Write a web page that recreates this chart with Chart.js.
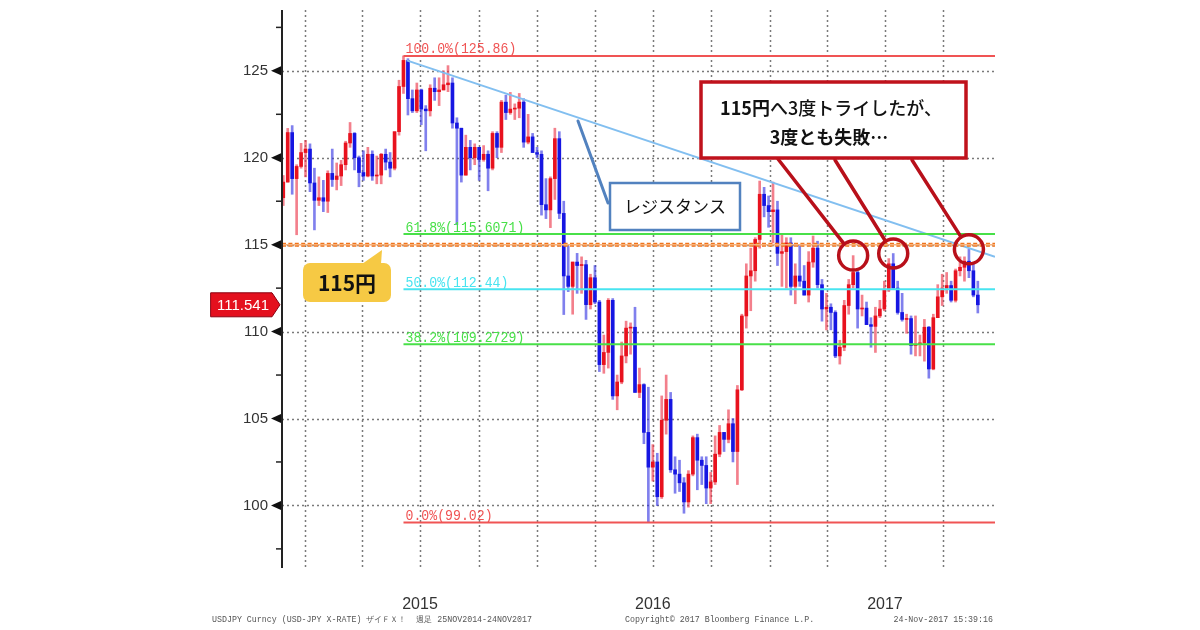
<!DOCTYPE html>
<html><head><meta charset="utf-8">
<script src="https://cdn.jsdelivr.net/npm/chart.js@4.4.1/dist/chart.umd.min.js"></script>
<style>html,body{margin:0;padding:0;background:#fff;}canvas{display:block;}</style>
</head><body>
<canvas id="c" width="1200" height="630" style="width:1200px;height:630px"></canvas>
<script>
// ---- data (USDJPY weekly, Friday dated) ----
const firstWeek = '2014-11-28';
const opens = [
117.7,118.6,121.45,118.8,119.5,120.3,120.5,118.55,117.55,117.7,117.5,119.1,118.75,118.95,119.6,120.85,121.4,120.0,119.15,118.95,
120.2,118.95,119.0,120.2,119.75,119.4,121.5,124.1,125.6,123.4,122.7,123.9,122.8,122.7,124.0,123.8,123.9,124.2,124.3,122.0,
121.7,119.0,120.6,120.0,120.6,119.9,120.2,119.4,121.4,120.6,123.2,122.6,122.8,122.85,123.2,120.9,121.2,120.3,120.2,117.3,
117.0,118.8,121.1,116.8,113.2,112.6,114.0,113.8,113.85,111.55,113.1,111.7,108.1,108.8,111.8,106.3,107.1,108.6,110.2,110.25,
106.5,106.95,104.2,102.2,102.5,100.5,104.9,106.1,102.05,101.8,101.3,100.2,101.8,103.9,102.6,102.3,101.0,101.35,102.95,104.2,
103.8,104.7,103.1,106.65,110.9,113.2,113.5,115.3,117.9,117.25,116.9,117.0,114.5,114.6,115.1,112.6,113.2,112.9,112.1,114.0,
114.8,112.7,111.3,111.4,111.1,108.6,109.1,111.5,112.7,113.4,111.3,111.35,110.4,110.3,110.9,111.3,112.4,113.9,112.5,111.1,
110.7,110.75,109.2,109.25,109.35,110.25,107.85,110.8,112.0,112.5,112.65,111.8,113.5,113.7,114.05,113.5,112.1];
const highs = [
118.98,121.69,121.85,119.6,120.83,121.0,120.8,119.4,118.9,118.7,119.25,120.5,119.7,119.85,120.95,122.03,121.45,120.1,120.4,120.6,
120.4,120.1,120.25,120.5,120.3,121.5,124.46,125.86,125.7,123.9,124.3,123.95,123.0,124.2,124.6,124.6,125.0,125.3,124.6,122.3,
121.7,121.3,121.0,120.8,120.6,120.7,120.4,121.5,121.5,123.3,123.6,123.76,123.1,123.7,123.4,122.5,121.4,120.6,120.4,118.8,
118.9,121.7,121.5,117.5,114.9,114.0,114.5,114.3,114.1,113.3,113.8,111.8,109.8,111.9,111.9,107.5,109.4,110.6,110.5,111.4,
107.9,107.0,106.8,103.5,103.0,106.3,107.5,106.5,102.8,102.6,101.6,102.0,104.0,104.1,102.8,102.8,101.9,104.0,104.6,104.2,
105.5,105.0,106.9,111.0,113.9,114.8,115.4,118.66,118.3,117.8,118.6,117.5,115.6,115.4,115.4,113.9,114.95,113.8,114.6,115.5,
115.2,113.0,112.2,111.6,111.2,109.5,111.8,113.0,114.37,113.5,112.1,111.7,110.8,111.4,111.8,112.9,114.2,114.49,112.9,112.2,
111.0,110.9,110.9,109.8,110.7,110.3,111.0,112.7,113.3,113.4,112.9,113.6,114.3,114.3,114.73,113.9,112.9];
const lows = [
117.25,118.6,117.9,115.57,119.4,118.9,118.05,115.85,117.25,116.9,116.85,118.35,118.15,118.4,119.3,120.6,119.3,118.33,118.7,118.9,
118.7,118.5,118.5,119.3,118.9,119.3,121.3,123.7,122.46,122.6,122.6,121.9,120.4,122.4,123.3,123.0,123.9,123.8,121.7,116.15,
118.6,119.0,119.3,119.6,118.7,119.8,118.1,119.3,120.0,120.3,122.2,122.5,122.2,122.3,120.6,120.8,120.3,120.0,116.7,116.5,
115.98,117.6,116.5,110.98,112.3,111.0,112.2,112.2,110.7,111.3,111.6,107.7,107.6,107.9,106.1,105.5,107.0,108.2,108.7,106.5,
106.2,103.55,99.02,101.4,99.99,100.4,104.1,101.9,100.7,100.8,99.55,99.9,101.7,100.9,101.2,100.1,100.1,101.2,102.8,103.1,
103.6,102.5,101.2,106.6,110.2,111.2,112.9,114.8,116.6,116.0,115.1,113.8,112.6,112.5,112.1,111.6,112.6,112.1,111.7,113.7,
112.5,110.6,110.1,110.1,108.5,108.13,108.9,111.0,112.5,110.2,110.9,110.4,109.1,108.8,110.8,111.2,112.3,112.5,111.0,110.6,
109.9,108.7,108.6,108.6,108.3,107.32,107.8,110.8,111.5,112.2,111.7,111.7,113.2,112.9,113.1,112.0,111.07];
const closes = [
118.6,121.45,118.8,119.5,120.3,120.5,118.55,117.55,117.7,117.5,119.1,118.75,118.95,119.6,120.85,121.4,120.0,119.15,118.95,120.2,
118.95,119.0,120.2,119.75,119.4,121.5,124.1,125.6,123.4,122.7,123.9,122.8,122.7,124.0,123.8,123.9,124.2,124.3,122.0,121.7,
119.0,120.6,120.0,120.6,119.9,120.2,119.4,121.4,120.6,123.2,122.6,122.8,122.85,123.2,120.9,121.2,120.3,120.2,117.3,117.0,
118.8,121.1,116.8,113.2,112.6,114.0,113.8,113.85,111.55,113.1,111.7,108.1,108.8,111.8,106.3,107.1,108.6,110.2,110.25,106.5,
106.95,104.2,102.2,102.5,100.5,104.9,106.1,102.05,101.8,101.3,100.2,101.8,103.9,102.6,102.3,101.0,101.35,102.95,104.2,103.8,
104.7,103.1,106.65,110.9,113.2,113.5,115.3,117.9,117.25,116.9,117.0,114.5,114.6,115.1,112.6,113.2,112.9,112.1,114.0,114.8,
112.7,111.3,111.4,111.1,108.6,109.1,111.5,112.7,113.4,111.3,111.35,110.4,110.3,110.9,111.3,112.4,113.9,112.5,111.1,110.7,
110.75,109.2,109.25,109.35,110.25,107.85,110.8,112.0,112.5,112.65,111.8,113.5,113.7,114.05,113.5,112.1,111.541];

const yTicks = [100,105,110,115,120,125];
const yMinorTicks = [97.5,102.5,107.5,112.5,117.5,122.5,127.5];
const quarterStarts = ['2015-01-01','2015-04-01','2015-07-01','2015-10-01','2016-01-01','2016-04-01',
  '2016-07-01','2016-10-01','2017-01-01','2017-04-01','2017-07-01','2017-10-01'];
const yearTicks = ['2015-07-01','2016-07-01','2017-07-01'];
const yearLabels = ['2015','2016','2017'];
const fibLevels = [125.86,115.6071,112.44,109.2729,99.02];
const fibLabels = ['100.0%(125.86)','61.8%(115.6071)','50.0%(112.44)','38.2%(109.2729)','0.0%(99.02)'];
const fibColors = ['#f05454','#48e048','#48e4f0','#48e048','#f05454'];
const fibStart = '2015-06-05';
const targetLevel = 115;
const resistDates = ['2015-06-10','2017-12-21'];
const resistValues = [125.6,114.3];
const tryDates = ['2017-05-12','2017-07-14','2017-11-10'];
const xRange = ['2014-11-26','2017-12-21'];
const yRange = [96.4,128.5];

// ---- helpers ----
const BASE = Date.UTC(2015,0,1), DAY = 86400000;
function dayOf(s){const p=s.split('-').map(Number);return (Date.UTC(p[0],p[1]-1,p[2])-BASE)/DAY;}
const weekDays = opens.map((_,i)=>dayOf(firstWeek)+7*i);
const xMin = dayOf(xRange[0]), xMax = dayOf(xRange[1]);

const UP='#e8121e', DOWN='#1616e2', UPW='rgba(236,50,70,0.62)', DOWNW='rgba(50,50,226,0.62)';
const isUp = i => closes[i] >= opens[i];

const lineDs = (pts,color,width,dash)=>({type:'line',data:pts,borderColor:color,borderWidth:width,
  borderDash:dash||[],pointRadius:0,fill:false,tension:0,order:0,borderCapStyle:'butt'});

const datasets = [];
fibLevels.forEach((lv,i)=>datasets.push(lineDs([{x:dayOf(fibStart),y:lv},{x:xMax,y:lv}],fibColors[i],2)));
datasets.push(lineDs([{x:xMin,y:targetLevel},{x:xMax,y:targetLevel}],'#f7b27c',1.5));
datasets.push(lineDs([{x:xMin,y:targetLevel},{x:xMax,y:targetLevel}],'#ef741c',4,[4,2.4]));
datasets.push(lineDs(resistDates.map((d,i)=>({x:dayOf(d),y:resistValues[i]})),'#82bff0',2));
datasets.push({type:'bar',data:weekDays.map((d,i)=>({x:d,y:[opens[i],closes[i]]})),
  backgroundColor:c=>isUp(c.dataIndex)?UP:DOWN,barThickness:3,grouped:false,order:1,minBarLength:1});
datasets.push({type:'bar',data:weekDays.map((d,i)=>({x:d,y:[lows[i],highs[i]]})),
  backgroundColor:c=>isUp(c.dataIndex)?UPW:DOWNW,barThickness:2,grouped:false,order:2});

function roundRect(ctx,x,y,w,h,r){ctx.beginPath();ctx.moveTo(x+r,y);ctx.lineTo(x+w-r,y);ctx.arcTo(x+w,y,x+w,y+r,r);
  ctx.lineTo(x+w,y+h-r);ctx.arcTo(x+w,y+h,x+w-r,y+h,r);ctx.lineTo(x+r,y+h);ctx.arcTo(x,y+h,x,y+h-r,r);
  ctx.lineTo(x,y+r);ctx.arcTo(x,y,x+r,y,r);ctx.closePath();}

const annot = {
  id:'annot',
  beforeDatasetsDraw(chart){
    const {ctx,chartArea:a,scales:{x,y}} = chart;
    ctx.save();
    ctx.strokeStyle='#7a7a7a';ctx.lineWidth=1.5;ctx.setLineDash([2,3]);
    quarterStarts.forEach(q=>{const px=Math.round(x.getPixelForValue(dayOf(q)))+0.5;
      ctx.beginPath();ctx.moveTo(px,a.top);ctx.lineTo(px,a.bottom);ctx.stroke();});
    yTicks.forEach(v=>{const py=Math.round(y.getPixelForValue(v))+0.5;
      ctx.beginPath();ctx.moveTo(a.left,py);ctx.lineTo(a.right,py);ctx.stroke();});
    ctx.setLineDash([]);
    ctx.restore();
  },
  afterDatasetsDraw(chart){
    const {ctx,chartArea:a,scales:{x,y}} = chart;
    ctx.save();
    ctx.strokeStyle='#222';ctx.lineWidth=2;
    ctx.beginPath();ctx.moveTo(a.left,a.top);ctx.lineTo(a.left,a.bottom);ctx.stroke();
    ctx.fillStyle='#111';
    yTicks.forEach(v=>{const py=y.getPixelForValue(v);
      ctx.beginPath();ctx.moveTo(a.left-11,py);ctx.lineTo(a.left-1,py-4.5);ctx.lineTo(a.left-1,py+4.5);ctx.closePath();ctx.fill();});
    ctx.lineWidth=1.5;
    yMinorTicks.forEach(v=>{const py=y.getPixelForValue(v);
      ctx.beginPath();ctx.moveTo(a.left-6,py);ctx.lineTo(a.left,py);ctx.stroke();});
    ctx.font='15px "Liberation Mono"';ctx.textBaseline='alphabetic';ctx.textAlign='left';
    const fx = x.getPixelForValue(dayOf(fibStart))+2;
    fibLevels.forEach((lv,i)=>{const py=y.getPixelForValue(lv)-2.5;
      ctx.save();ctx.translate(fx,py);ctx.scale(0.88,1);ctx.fillStyle=fibColors[i];
      ctx.fillText(fibLabels[i],0,0);ctx.restore();});
    ctx.restore();
  },
  afterDraw(chart){
    const {ctx,chartArea:a,scales:{x,y}} = chart;
    ctx.save();
    ctx.strokeStyle='#5282bf';ctx.lineWidth=3;ctx.lineCap='round';
    ctx.beginPath();ctx.moveTo(578,121);ctx.lineTo(608,203);ctx.stroke();
    ctx.fillStyle='#fff';ctx.fillRect(610,183,130,47);
    ctx.lineWidth=2.5;ctx.strokeRect(610,183,130,47);
    ctx.fillStyle='#111';ctx.font='17px "Noto Sans CJK JP"';ctx.textAlign='center';ctx.textBaseline='middle';
    ctx.fillText('レジスタンス',675,207);
    const starts=[[778,159],[835,160],[912,160]];
    ctx.strokeStyle='#b8101a';ctx.lineWidth=3.5;
    tryDates.forEach((d,k)=>{
      const idx = weekDays.indexOf(dayOf(d));
      const cx=x.getPixelForValue(weekDays[idx]), cy=y.getPixelForValue(highs[idx]), r=14.5;
      const [sx,sy]=starts[k]; const dx=sx-cx, dy=sy-cy, L=Math.hypot(dx,dy);
      ctx.beginPath();ctx.moveTo(sx,sy);ctx.lineTo(cx+dx/L*r,cy+dy/L*r);ctx.stroke();
      ctx.beginPath();ctx.arc(cx,cy,r,0,Math.PI*2);ctx.stroke();
    });
    ctx.fillStyle='#fff';ctx.fillRect(701,82,265,76);
    ctx.strokeStyle='#c0121c';ctx.lineWidth=3.5;ctx.strokeRect(701,82,265,76);
    ctx.fillStyle='#111';ctx.textBaseline='middle';ctx.textAlign='left';
    const t1a='115円', t1b='へ3度トライしたが、';
    ctx.font='bold 18px "Noto Sans CJK JP"';const wa=ctx.measureText(t1a).width;
    ctx.font='500 18px "Noto Sans CJK JP"';const wb=ctx.measureText(t1b).width;
    let sx0=831-(wa+wb)/2;
    ctx.font='bold 18px "Noto Sans CJK JP"';ctx.fillText(t1a,sx0,108);
    ctx.font='500 18px "Noto Sans CJK JP"';ctx.fillText(t1b,sx0+wa,108);
    ctx.font='bold 18px "Noto Sans CJK JP"';ctx.textAlign='center';ctx.fillText('3度とも失敗…',829,137);
    ctx.fillStyle='#f6c944';
    roundRect(ctx,303,263,88,39,7);ctx.fill();
    ctx.beginPath();ctx.moveTo(362,264);ctx.lineTo(382,250);ctx.lineTo(381,264);ctx.closePath();ctx.fill();
    ctx.fillStyle='#111';ctx.font='bold 21px "Noto Sans CJK JP"';ctx.textAlign='center';ctx.textBaseline='middle';
    ctx.fillText('115円',347,283);
    const last=closes[closes.length-1], ty=y.getPixelForValue(last);
    ctx.fillStyle='#e4101e';ctx.strokeStyle='#8a0010';ctx.lineWidth=1;
    ctx.beginPath();ctx.moveTo(211,ty-12);ctx.lineTo(272,ty-12);ctx.lineTo(280,ty);ctx.lineTo(272,ty+12);ctx.lineTo(211,ty+12);ctx.closePath();
    ctx.fill();ctx.stroke();
    ctx.fillStyle='#fff';ctx.font='15px "Liberation Sans"';ctx.textAlign='center';
    ctx.fillText(last.toFixed(3),243,ty+1);
    ctx.fillStyle='#555';ctx.font='8.3px "Liberation Mono"';ctx.textBaseline='alphabetic';ctx.textAlign='left';
    ctx.fillText('USDJPY Curncy (USD-JPY X-RATE) ザイＦＸ！  週足 25NOV2014-24NOV2017',212,622);
    ctx.fillText('Copyright© 2017 Bloomberg Finance L.P.',625,622);
    ctx.textAlign='right';ctx.fillText('24-Nov-2017 15:39:16',993,622);
    ctx.restore();
  }
};

new Chart(document.getElementById('c'),{
  type:'bar',
  data:{datasets},
  options:{
    responsive:false,animation:false,devicePixelRatio:1,
    layout:{padding:{top:10,right:205,left:0,bottom:0}},
    plugins:{legend:{display:false},tooltip:{enabled:false}},
    scales:{
      x:{type:'linear',min:xMin,max:xMax,offset:false,grid:{display:false,drawTicks:false},border:{display:false},
        afterFit(s){s.height=62;s.paddingLeft=0;s.paddingRight=0;},
        afterBuildTicks(s){s.ticks=yearTicks.map(t=>({value:dayOf(t)}));},
        ticks:{autoSkip:false,maxRotation:0,padding:27,color:'#333',font:{family:'Liberation Sans',size:16},
          callback:(v,i)=>yearLabels[i]}},
      y:{min:yRange[0],max:yRange[1],grid:{display:false,drawTicks:false},border:{display:false},
        afterFit(s){s.width=282;s.paddingTop=0;s.paddingBottom=0;},
        afterBuildTicks(s){s.ticks=yTicks.map(v=>({value:v}));},
        ticks:{padding:14,color:'#333',font:{family:'Liberation Sans',size:15},callback:v=>String(v)}}
    }
  },
  plugins:[annot]
});
</script>
</body></html>
